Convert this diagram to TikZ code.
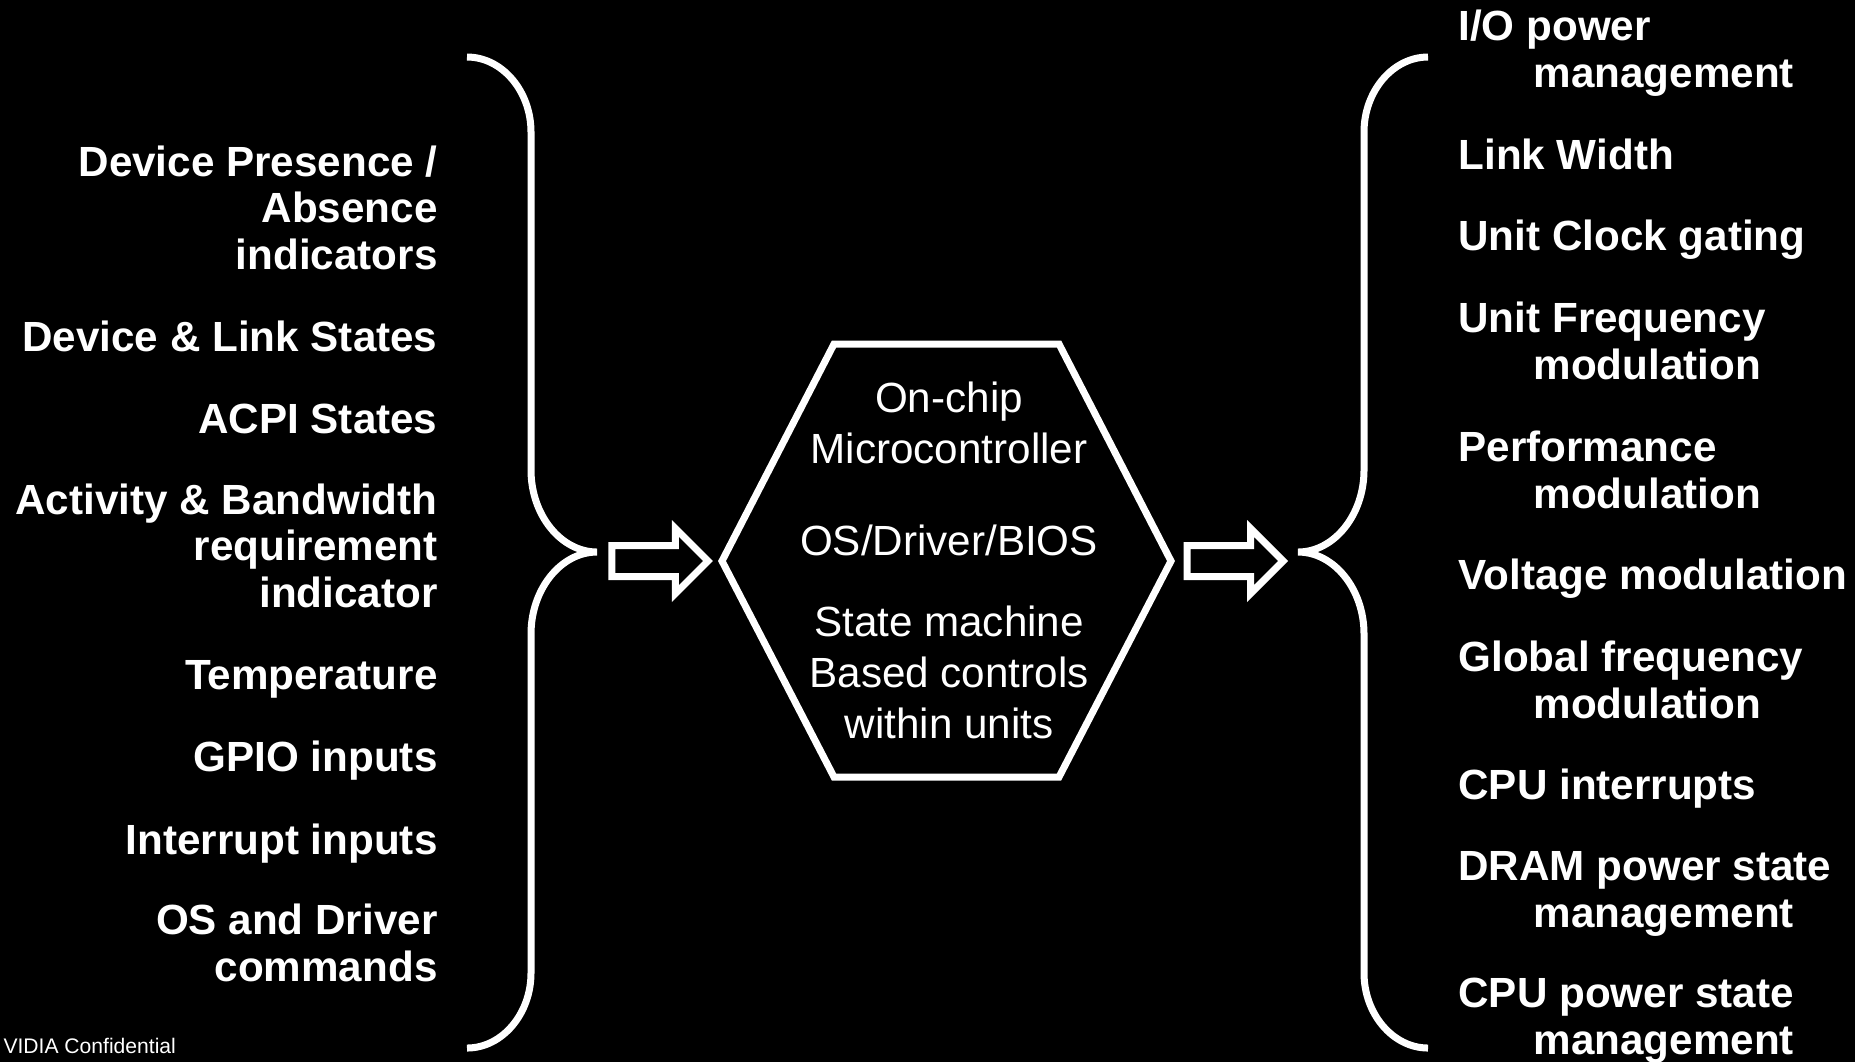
\documentclass[tikz,border=0pt]{standalone}
\usepackage{fontspec}
\setmainfont{Liberation Sans}
\usetikzlibrary{shapes.arrows,positioning}

\begin{document}
\begin{tikzpicture}[x=0.01cm, y=-0.01cm, line width=.07cm]
% Label, brace and arrow styles
\tikzstyle{inlabel}=[text=white, font=\bfseries\fontsize{12}{13.1}\selectfont, align=right, anchor=base east, inner sep=0pt]
\tikzstyle{outlabel}=[text=white, font=\bfseries\fontsize{12}{13.1}\selectfont, align=left, anchor=base west, inner sep=0pt]
\tikzstyle{brace}=[draw=white, line width=.07cm]
\tikzstyle{hexline}=[draw=white, line width=.07cm]
\tikzstyle{blockarr}=[single arrow, draw=white, fill=black, line width=.07cm, inner sep=0pt, inner ysep=.12cm, single arrow head extend=.17cm, single arrow tip angle=90, minimum height=.96cm, outer sep=0pt]

% Background
\fill[black] (0,0) rectangle (1855,1062);
\useasboundingbox (0,0) rectangle (1855,1062);

% Inputs (anchored at the baseline of the last line)
\node[inlabel] (in1) at (441,269) {Device Presence /\\Absence\\indicators};
\node[inlabel] (in2) at (441,351) {Device \& Link States};
\node[inlabel] (in3) at (441,433) {ACPI States};
\node[inlabel] (in4) at (441,607) {Activity \& Bandwidth\\requirement\\indicator};
\node[inlabel] (in5) at (441,689) {Temperature};
\node[inlabel] (in6) at (441,771) {GPIO inputs};
\node[inlabel] (in7) at (441,854) {Interrupt inputs};
\node[inlabel] (in8) at (441,981) {OS and Driver\\commands};

% Outputs
\node[outlabel] (out1) at (1455,87) {I/O power\\\hspace*{.75cm}management};
\node[outlabel] (out2) at (1455,169) {Link Width};
\node[outlabel] (out3) at (1455,250) {Unit Clock gating};
\node[outlabel] (out4) at (1455,379) {Unit Frequency\\\hspace*{.75cm}modulation};
\node[outlabel] (out5) at (1455,508) {Performance\\\hspace*{.75cm}modulation};
\node[outlabel] (out6) at (1455,589) {Voltage modulation};
\node[outlabel] (out7) at (1455,718) {Global frequency\\\hspace*{.75cm}modulation};
\node[outlabel] (out8) at (1455,799) {CPU interrupts};
\node[outlabel] (out9) at (1455,927) {DRAM power state\\\hspace*{.75cm}management};
\node[outlabel] (out10) at (1455,1054) {CPU power state\\\hspace*{.75cm}management};

% Controller
\node[text=white, font=\fontsize{12}{14.5}\selectfont, align=center, anchor=base, inner sep=0pt] (mcu) at (949,738) {On-chip\\Microcontroller\\[.41cm]OS/Driver/BIOS\\[.30cm]State machine\\Based controls\\within units};
\coordinate (hw) at (722,561);
\coordinate (hnw) at (834,344);
\coordinate (hne) at (1059,344);
\coordinate (he) at (1171,561);
\coordinate (hse) at (1059,777);
\coordinate (hsw) at (834,777);
\draw[hexline] (hw)--(hnw)--(hne)--(he)--(hse)--(hsw)--cycle;

% Braces
\coordinate (ltip) at (597,552);
\coordinate (rtip) at (1298,552);
\draw[brace] (467,57) .. controls (502,57) and (531,91) .. (531,132) -- (531,470) .. controls (531,515) and (561,552) .. (ltip) .. controls (561,552) and (531,589) .. (531,634) -- (531,973) .. controls (531,1014) and (502,1048) .. (467,1048);
\draw[brace] (1428,57) .. controls (1393,57) and (1364,91) .. (1364,132) -- (1364,470) .. controls (1364,515) and (1334,552) .. (rtip) .. controls (1334,552) and (1364,589) .. (1364,634) -- (1364,973) .. controls (1364,1014) and (1393,1048) .. (1428,1048);

% Block arrows
\node[blockarr, anchor=tip] (arin) at ([xshift=-.14cm]hw) {};
\node[blockarr, anchor=tail] (arout) at ([xshift=.16cm]he) {};

\node[text=white, font=\fontsize{6}{7}\selectfont, anchor=base west, inner sep=0pt] (conf) at (0,1053) {VIDIA Confidential};
\end{tikzpicture}
\end{document}
